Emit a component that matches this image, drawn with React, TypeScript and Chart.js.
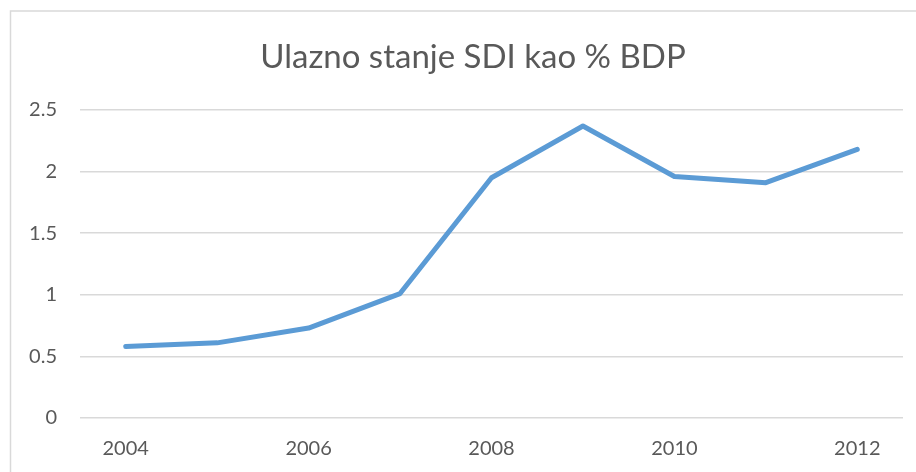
import React, { useEffect, useRef } from "react";
import { Chart, registerables } from "chart.js";

Chart.register(...registerables);

const years = ["2004", "2005", "2006", "2007", "2008", "2009", "2010", "2011", "2012"];
const values = [0.58, 0.61, 0.73, 1.01, 1.95, 2.37, 1.96, 1.91, 2.18];
const yTicks = [0, 0.5, 1, 1.5, 2, 2.5];
const titleText = "Ulazno stanje SDI kao % BDP";

const FONT = "Lato, 'Open Sans', 'Liberation Sans', sans-serif";

const decor = {
  id: "decor",
  beforeDraw(chart: any) {
    const ctx = chart.ctx;
    ctx.save();
    ctx.fillStyle = "#ffffff";
    ctx.fillRect(0, 0, chart.width, chart.height);
    ctx.strokeStyle = "#d9d9d9";
    ctx.lineWidth = 1.5;
    ctx.beginPath();
    ctx.moveTo(10.5, chart.height);
    ctx.lineTo(10.5, 11);
    ctx.lineTo(chart.width, 11);
    ctx.stroke();
    ctx.fillStyle = "#595959";
    ctx.font = `33px ${FONT}`;
    ctx.textAlign = "center";
    ctx.textBaseline = "alphabetic";
    ctx.fillText(titleText, 473, 68);
    ctx.restore();
  },
};

export default function App() {
  const ref = useRef<HTMLCanvasElement | null>(null);
  useEffect(() => {
    if (!ref.current) return;
    const chart = new Chart(ref.current, {
      type: "line",
      data: {
        labels: years,
        datasets: [
          {
            data: values,
            borderColor: "#5b9bd5",
            borderWidth: 5,
            pointRadius: 0,
            tension: 0,
            borderCapStyle: "round",
            borderJoinStyle: "round",
          },
        ],
      },
      options: {
        animation: false,
        responsive: false,
        maintainAspectRatio: false,
        layout: { padding: { left: 10, right: 13, top: 110, bottom: 0 } },
        plugins: {
          legend: { display: false },
          title: { display: false },
          tooltip: { enabled: false },
        },
        scales: {
          x: {
            offset: true,
            grid: { display: false, drawTicks: false },
            border: { display: false },
            afterFit: (s: any) => {
              s.height = 54;
            },
            ticks: {
              autoSkip: false,
              maxRotation: 0,
              padding: 19,
              color: "#595959",
              font: { family: FONT, size: 20 },
              callback: (_v: any, i: number) => (i % 2 === 0 ? years[i] : ""),
            },
          },
          y: {
            min: 0,
            max: 2.5,
            afterFit: (s: any) => {
              s.width = 70;
            },
            afterBuildTicks: (s: any) => {
              s.ticks = yTicks.map((v) => ({ value: v }));
            },
            grid: { color: "#d9d9d9", lineWidth: 1.5, drawTicks: false },
            border: { display: false },
            ticks: {
              padding: 23,
              color: "#595959",
              font: { family: FONT, size: 20 },
              callback: (v: any) => String(v),
            },
          },
        },
      },
      plugins: [decor],
    });
    return () => chart.destroy();
  }, []);
  return (
    <div style={{ position: "absolute", left: 0, top: 0, width: 916, height: 472 }}>
      <canvas ref={ref} width={916} height={472} style={{ display: "block" }} />
    </div>
  );
}
